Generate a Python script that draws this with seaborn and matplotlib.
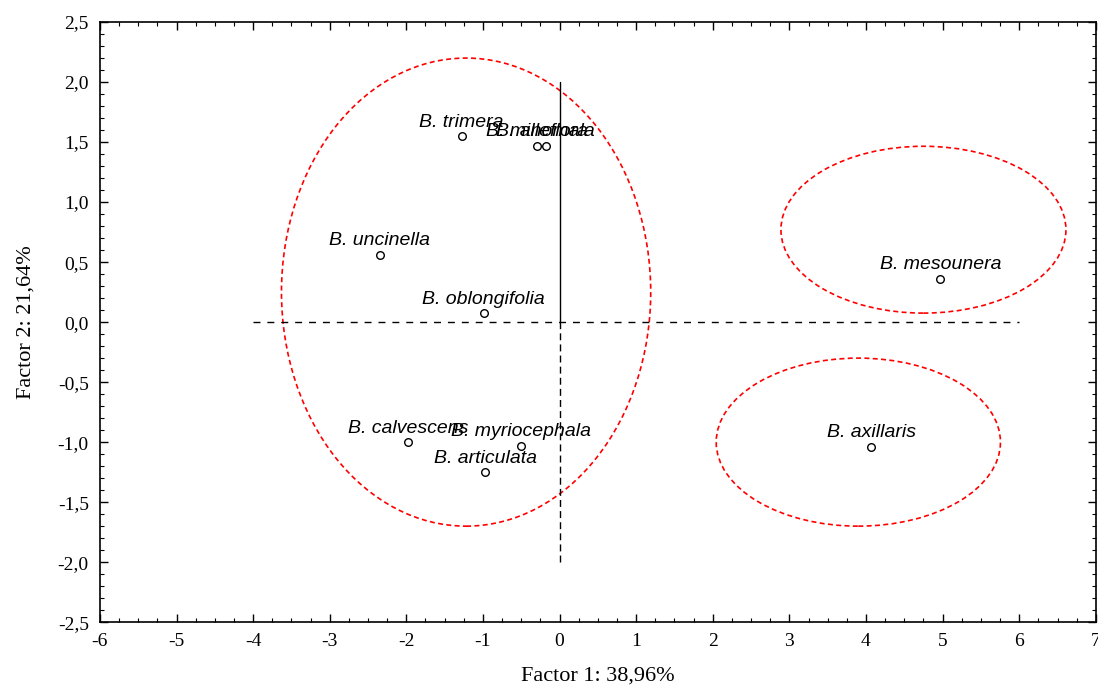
import matplotlib
matplotlib.use("Agg")
import matplotlib.pyplot as plt
import seaborn as sns
import pandas as pd
from matplotlib.patches import Ellipse
from matplotlib.ticker import MultipleLocator, FuncFormatter

# ============================================================
# DATA
# ============================================================

species = ["B. trimera", "B. milleflora", "B. anomala", "B. uncinella",
           "B. oblongifolia", "B. calvescens", "B. myriocephala",
           "B. articulata", "B. mesounera", "B. axillaris"]
factor1 = [-1.28, -0.29, -0.18, -2.35, -0.99, -1.98, -0.50, -0.97, 4.97, 4.07]
factor2 = [1.55, 1.47, 1.47, 0.56, 0.075, -1.00, -1.03, -1.25, 0.36, -1.04]

# group ellipses: centre x, centre y, width, height
ell_cx = [-1.22, 4.75, 3.90]
ell_cy = [0.25, 0.77, -1.00]
ell_w  = [4.82, 3.72, 3.71]
ell_h  = [3.90, 1.39, 1.40]

x_label = "Factor 1: 38,96%"
y_label = "Factor 2: 21,64%"

df = pd.DataFrame({"Species": species, "F1": factor1, "F2": factor2})

# ============================================================
# PLOT
# ============================================================

sns.set_style("ticks", {"text.color": "black", "axes.labelcolor": "black",
                        "xtick.color": "black", "ytick.color": "black",
                        "axes.edgecolor": "black"})
plt.rcParams["font.family"] = ["Liberation Serif", "DejaVu Serif"]

fig = plt.figure(figsize=(10.98, 6.89), dpi=100)
ax = fig.add_axes([0.091, 0.097, 0.907, 0.871])

sns.scatterplot(data=df, x="F1", y="F2", ax=ax, s=30, marker="o",
                facecolor="white", edgecolor="black", linewidth=1.0, zorder=3)

for _, row in df.iterrows():
    ax.annotate(row["Species"], (row["F1"], row["F2"]),
                textcoords="offset points", xytext=(0, 4),
                ha="center", va="bottom", fontsize=14, style="italic",
                color="black", family=["Liberation Sans", "DejaVu Sans"],
                zorder=4)

for cx, cy, w, h in zip(ell_cx, ell_cy, ell_w, ell_h):
    ax.add_patch(Ellipse((cx, cy), w, h, fill=False, edgecolor="red",
                         linestyle=(0, (3, 2)), linewidth=1.2, zorder=2))

# reference axes through the origin
ax.plot([-4, 6], [0, 0], color="black", linestyle=(0, (5, 5)), linewidth=1.0)
ax.plot([0, 0], [0, 2], color="black", linestyle="-", linewidth=1.0)
ax.plot([0, 0], [-2, 0], color="black", linestyle=(0, (5, 3)), linewidth=1.0)

ax.set_xlim(-6, 7)
ax.set_ylim(-2.5, 2.5)
ax.xaxis.set_major_locator(MultipleLocator(1))
ax.xaxis.set_minor_locator(MultipleLocator(0.25))
ax.yaxis.set_major_locator(MultipleLocator(0.5))
ax.yaxis.set_minor_locator(MultipleLocator(0.1))
ax.xaxis.set_major_formatter(FuncFormatter(lambda v, p: f"{v:.0f}".replace("\u2212", "-")))
ax.yaxis.set_major_formatter(FuncFormatter(lambda v, p: f"{v:.1f}".replace(".", ",")))

ax.tick_params(which="both", direction="in", top=True, right=True)
ax.tick_params(which="major", length=6, width=1, labelsize=14, pad=8)
ax.tick_params(which="minor", length=3, width=0.8)
for s in ax.spines.values():
    s.set_linewidth(1.2)

ax.set_xlabel(x_label, fontsize=16, labelpad=12)
ax.set_ylabel(y_label, fontsize=16, labelpad=16)

fig.savefig("out.png", dpi=100)
